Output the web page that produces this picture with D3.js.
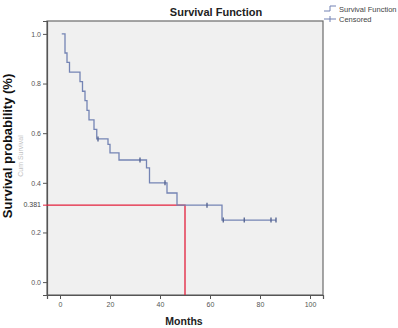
<!DOCTYPE html>
<html>
<head>
<meta charset="utf-8">
<script src="https://cdn.jsdelivr.net/npm/d3@7"></script>
<style>
  body { margin: 0; background: #fff; }
  text { font-family: "Liberation Sans", Arial, sans-serif; }
</style>
</head>
<body>
<script>
// data
const stepTimes = [0.7, 2.0, 2.8, 3.8, 8.0, 9.0, 10.0, 10.8, 11.6, 13.6, 14.7, 19.2, 20.0, 23.6, 34.6, 35.8, 42.8, 46.8, 64.8];
const stepSurv  = [1.0, 0.923, 0.885, 0.846, 0.808, 0.769, 0.731, 0.692, 0.654, 0.615, 0.577, 0.555, 0.521, 0.492, 0.46, 0.40, 0.359, 0.31, 0.25];
const lastTime = 86.4;
const censorTimes = [15.2, 32.0, 42.0, 58.8, 65.3, 73.7, 84.4, 86.4];
const xTicks = [0, 20, 40, 60, 80, 100];
const yTicks = [0.0, 0.2, 0.4, 0.6, 0.8, 1.0];
const medianTime = 50;
const refLevel = 0.31;      // where the red line sits in the picture
const refLabel = "0.381";

const W = 398, H = 328;
const frame = { left: 47, right: 323, top: 21, bottom: 295 };

const svg = d3.select('body').append('svg')
  .attr('width', W).attr('height', H);

const x = d3.scaleLinear().domain([-5.2, 105.2]).range([frame.left, frame.right]);
const y = d3.scaleLinear().domain([-0.052, 1.052]).range([frame.bottom, frame.top]);

// plot background + frame
svg.append('rect')
  .attr('x', frame.left).attr('y', frame.top)
  .attr('width', frame.right - frame.left).attr('height', frame.bottom - frame.top)
  .attr('fill', '#f0f0f0').attr('stroke', '#6b6b6b').attr('stroke-width', 1.2);

// axes
const yAxis = svg.append('g')
  .attr('transform', `translate(${frame.left},0)`)
  .call(d3.axisLeft(y).tickValues(yTicks).tickFormat(d3.format('.1f')).tickSize(4).tickPadding(2));
const xAxis = svg.append('g')
  .attr('transform', `translate(0,${frame.bottom})`)
  .call(d3.axisBottom(x).tickValues(xTicks).tickSize(4).tickPadding(3));
[xAxis, yAxis].forEach(a => {
  a.select('.domain').attr('stroke', '#555').attr('stroke-width', 1.2);
  a.selectAll('.tick line').attr('stroke', '#555');
  a.selectAll('.tick text').attr('fill', '#555').style('font-size', '7px');
});

// survival curve
const pts = stepTimes.map((t, i) => [t, stepSurv[i]]);
pts.push([lastTime, stepSurv[stepSurv.length - 1]]);
const survAt = t => {
  let s = stepSurv[0];
  stepTimes.forEach((st, i) => { if (st <= t) s = stepSurv[i]; });
  return s;
};

const line = d3.line()
  .x(d => x(d[0]))
  .y(d => y(d[1]))
  .curve(d3.curveStepAfter);

// red median lines
svg.append('path')
  .attr('d', `M${frame.left},${y(refLevel)}H${x(medianTime)}V${frame.bottom}`)
  .attr('fill', 'none').attr('stroke', '#e3203c').attr('stroke-width', 1.3);
svg.append('line')
  .attr('x1', frame.left - 4).attr('x2', frame.left)
  .attr('y1', y(refLevel)).attr('y2', y(refLevel))
  .attr('stroke', '#e3203c');
svg.append('text')
  .attr('x', frame.left - 6).attr('y', y(refLevel)).attr('dy', '0.32em')
  .attr('text-anchor', 'end').attr('fill', '#444').style('font-size', '7px')
  .text(refLabel);

svg.append('path')
  .datum(pts)
  .attr('d', line)
  .attr('fill', 'none').attr('stroke', '#7484b4').attr('stroke-width', 1.3);

svg.selectAll('.cens')
  .data(censorTimes)
  .enter().append('path')
  .attr('class', 'cens')
  .attr('d', t => `M${x(t)},${y(survAt(t)) - 2.5}V${y(survAt(t)) + 2.5}`)
  .attr('stroke', '#4f5f8e').attr('stroke-width', 1.3);

// title and labels
svg.append('text')
  .attr('x', 216).attr('y', 16).attr('text-anchor', 'middle')
  .style('font-size', '11px').style('font-weight', 'bold').attr('fill', '#222')
  .text('Survival Function');

svg.append('text')
  .attr('x', 184).attr('y', 325).attr('text-anchor', 'middle')
  .style('font-size', '10.5px').style('font-weight', 'bold').attr('fill', '#222')
  .text('Months');

// faint original axis title hidden behind
svg.append('text')
  .attr('transform', 'translate(23,156) rotate(-90)')
  .attr('text-anchor', 'middle')
  .style('font-size', '7px').attr('fill', '#999').attr('opacity', 0.6)
  .text('Cum Survival');

svg.append('text')
  .attr('transform', 'translate(12,146) rotate(-90)')
  .attr('text-anchor', 'middle')
  .style('font-size', '13px').style('font-weight', 'bold').attr('fill', '#111')
  .text('Survival probability (%)');

// legend
const lg = svg.append('g').attr('transform', 'translate(324,0)');
lg.append('path')
  .attr('d', 'M0,11H6V6H12')
  .attr('fill', 'none').attr('stroke', '#7282b4').attr('stroke-width', 1);
lg.append('path')
  .attr('d', 'M0,19H12M6,16V22')
  .attr('fill', 'none').attr('stroke', '#7282b4').attr('stroke-width', 1);
lg.append('text').attr('x', 15).attr('y', 11.5)
  .style('font-size', '7.5px').attr('fill', '#444').text('Survival Function');
lg.append('text').attr('x', 15).attr('y', 21.5)
  .style('font-size', '7.5px').attr('fill', '#444').text('Censored');
</script>
</body>
</html>
